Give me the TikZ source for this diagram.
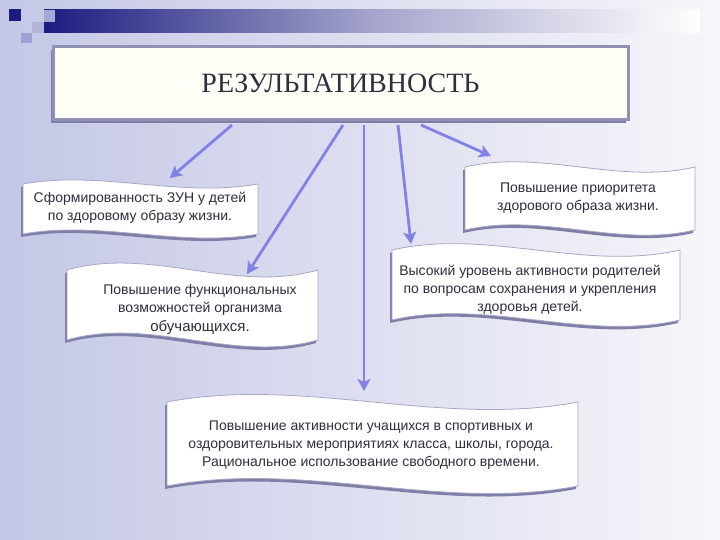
\documentclass[tikz,border=0pt]{standalone}
\usepackage{fontspec}
\setmainfont{Liberation Sans}
\newfontfamily\titlefont{Liberation Serif}
\usetikzlibrary{arrows.meta}
\definecolor{bgL}{HTML}{C4C7E6}
\definecolor{bgR}{HTML}{F6F6FA}
\definecolor{navy}{HTML}{1C1C80}
\definecolor{arrc}{HTML}{8282E6}
\definecolor{shadc}{HTML}{7E7EA6}
\definecolor{edgec}{HTML}{A6A6C6}
\definecolor{txtc}{HTML}{2E2E3E}
\definecolor{sqA}{HTML}{A4A8D2}
\definecolor{sqB}{HTML}{B2B4DA}
\definecolor{sqC}{HTML}{A0A0D4}
\newcommand{\wavepath}[5]{(#1,#2) .. controls ({#1+(#3-#1)/3},{#2-#5}) and ({#1+2*(#3-#1)/3},{#2+#5}) .. (#3,#2) -- (#3,#4) .. controls ({#1+2*(#3-#1)/3},{#4+#5}) and ({#1+(#3-#1)/3},{#4-#5}) .. (#1,#4) -- cycle}
\newcommand{\wavebox}[5]{%
  \fill[shadc, shift={(-2,3)}] \wavepath{#1}{#2}{#3}{#4}{#5};
  \filldraw[fill=white, draw=edgec, line width=0.8pt] \wavepath{#1}{#2}{#3}{#4}{#5};}
\tikzset{
  txt/.style={align=center, text=txtc, inner sep=0pt, font=\fontsize{14}{18}\selectfont},
  arr/.style={draw=arrc, line width=2.8pt, -{Stealth[length=12pt,width=13pt,inset=3pt]}},
  titlebox/.style={draw=shadc!85!white, line width=3pt, fill=white!97!yellow, minimum width=575pt, minimum height=73pt, inner sep=0pt, font=\titlefont\fontsize{28}{32}\selectfont, text=txtc}
}
\begin{document}
\begin{tikzpicture}[x=1pt,y=-1pt]
\useasboundingbox (0,0) rectangle (720,540);
\shade[left color=bgL, right color=bgR] (0,0) rectangle (720,540);
% top decoration
\fill[navy] (9,9) rectangle (21,21);
\shade[left color=navy, right color=white, middle color=navy!40!white] (44,10) rectangle (700,33);
\fill[sqA] (44,10) rectangle (55,22);
\fill[sqB] (32,22) rectangle (44,33);
\fill[sqC] (21,33) rectangle (32,43);
% title
\fill[shadc] (51,50) rectangle (626,123);
\node[titlebox] (title) at (340.5,83.5) {РЕЗУЛЬТАТИВНОСТЬ};
% wave boxes
\wavebox{23}{184}{258}{234}{14}
\wavebox{465}{167}{695}{230}{18}
\wavebox{67}{270}{318}{340}{24}
\wavebox{392}{250}{680}{320}{22}
\wavebox{167}{402}{578}{486}{26}
% texts
\node[txt] (a) at (140,208) {Сформированность ЗУН у детей\\по здоровому образу жизни.};
\node[txt] (b) at (578,198) {Повышение приоритета\\здорового образа жизни.};
\node[txt] (c) at (200,300) {Повышение функциональных\\возможностей организма};
\node[txt, font=\fontsize{15}{18}\selectfont] (c2) at (200,328) {обучающихся.};
\node[txt] (d) at (530,290) {Высокий уровень активности родителей\\по вопросам сохранения и укрепления\\здоровья детей.};
\node[txt] (e) at (371,445) {Повышение активности учащихся в спортивных и\\оздоровительных мероприятиях класса, школы, города.\\Рациональное использование свободного времени.};
% arrows
\coordinate (s1) at (232,125); \coordinate (t1) at (170,178);
\coordinate (s2) at (343,125); \coordinate (t2) at (247,274);
\coordinate (s3) at (364,125); \coordinate (t3) at (364,391);
\coordinate (s4) at (398,125); \coordinate (t4) at (411,244);
\coordinate (s5) at (421,125); \coordinate (t5) at (491,156);
\draw[arr] (s1) -- (t1);
\draw[arr] (s2) -- (t2);
\draw[arr] (s3) -- (t3);
\draw[arr] (s4) -- (t4);
\draw[arr] (s5) -- (t5);
\end{tikzpicture}
\end{document}
